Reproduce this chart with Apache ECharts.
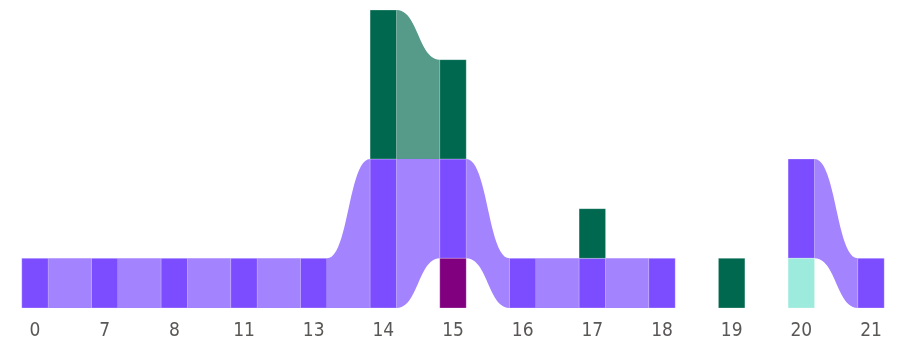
<!DOCTYPE html>
<html>
<head>
<meta charset="utf-8">
<script src="https://cdn.jsdelivr.net/npm/echarts@6/dist/echarts.min.js"></script>
<style>
  html, body { margin: 0; padding: 0; background: #fff; }
  #chart { width: 897px; height: 342px; }
</style>
</head>
<body>
<div id="chart"></div>
<script>
// hour buckets on the x axis
var categories = ['0', '7', '8', '11', '13', '14', '15', '16', '17', '18', '19', '20', '21'];

// counts per series, one value per category
var purpleValues  = [1, 1, 1, 1, 1, 3, 2, 1, 1, 1, 0, 2, 1];
var greenValues   = [0, 0, 0, 0, 0, 3, 2, 0, 1, 0, 1, 0, 0];
var magentaValues = [0, 0, 0, 0, 0, 0, 1, 0, 0, 0, 0, 0, 0];
var tealValues    = [0, 0, 0, 0, 0, 0, 0, 0, 0, 0, 0, 1, 0];

var seriesDefs = [
  { name: 'A', values: purpleValues,  color: '#7C4DFF', ribbon: '#A483FF' },
  { name: 'B', values: greenValues,   color: '#00684F', ribbon: '#569A8A' },
  { name: 'C', values: magentaValues, color: '#800080', ribbon: '#B366B3' },
  { name: 'D', values: tealValues,    color: '#9DEBDC', ribbon: '#C4F3EA' }
];

// ribbon layout: in every column the smaller value goes lower, ties keep series order
var stacks = categories.map(function (c, i) {
  var present = [];
  seriesDefs.forEach(function (s, k) {
    if (s.values[i] > 0) present.push(k);
  });
  present.sort(function (a, b) {
    var d = seriesDefs[a].values[i] - seriesDefs[b].values[i];
    return d !== 0 ? d : a - b;
  });
  var pos = {}, acc = 0;
  present.forEach(function (k) {
    pos[k] = [acc, acc + seriesDefs[k].values[i]];
    acc += seriesDefs[k].values[i];
  });
  return pos;
});

function sCurve(xa, ya, xb, yb, n) {
  var pts = [], xm = (xa + xb) / 2;
  for (var t = 0; t <= n; t++) {
    var u = t / n, v = 1 - u;
    var x = v * v * v * xa + 3 * v * v * u * xm + 3 * v * u * u * xm + u * u * u * xb;
    var y = v * v * v * ya + 3 * v * v * u * ya + 3 * v * u * u * yb + u * u * u * yb;
    pts.push([x, y]);
  }
  return pts;
}

var chart = echarts.init(document.getElementById('chart'));

var series = seriesDefs.map(function (s, k) {
  var data = categories.map(function (c, i) {
    var cur = stacks[i][k];
    if (!cur) return [i, 0, 0, -1, -1];
    var nxt = i + 1 < categories.length ? stacks[i + 1][k] : null;
    return [i, cur[0], cur[1], nxt ? nxt[0] : -1, nxt ? nxt[1] : -1];
  });
  return {
    name: s.name,
    type: 'custom',
    clip: false,
    encode: { x: 0, y: [1, 2] },
    data: data,
    renderItem: function (params, api) {
      var i = api.value(0), y0 = api.value(1), y1 = api.value(2);
      if (y1 <= y0) return null;
      var halfW = api.size([1, 0])[0] * 0.19;
      var pb = api.coord([i, y0]), pt = api.coord([i, y1]);
      var children = [{
        type: 'rect',
        shape: { x: pb[0] - halfW, y: pt[1], width: halfW * 2, height: pb[1] - pt[1] },
        style: { fill: s.color, stroke: 'rgba(255,255,255,0.25)', lineWidth: 1 }
      }];
      var ny0 = api.value(3), ny1 = api.value(4);
      if (ny1 > ny0) {
        var qb = api.coord([i + 1, ny0]), qt = api.coord([i + 1, ny1]);
        var xa = pb[0] + halfW, xb = qb[0] - halfW;
        var top = sCurve(xa, pt[1], xb, qt[1], 24);
        var bottom = sCurve(xb, qb[1], xa, pb[1], 24);
        children.push({
          type: 'polygon',
          shape: { points: top.concat(bottom) },
          style: { fill: s.ribbon }
        });
      }
      return { type: 'group', children: children };
    }
  };
});

chart.setOption({
  animation: false,
  grid: { left: 35, right: 26, top: 10, bottom: 34 },
  xAxis: {
    type: 'category',
    data: categories,
    boundaryGap: false,
    axisLine: { show: false },
    axisTick: { show: false },
    axisLabel: {
      margin: 14,
      fontSize: 19,
      color: '#5A5856',
      fontFamily: '"DejaVu Sans Condensed", "DejaVu Sans", sans-serif'
    },
    splitLine: { show: false }
  },
  yAxis: {
    type: 'value',
    min: 0,
    max: 6,
    show: false,
    splitLine: { show: false }
  },
  series: series
});
</script>
</body>
</html>
